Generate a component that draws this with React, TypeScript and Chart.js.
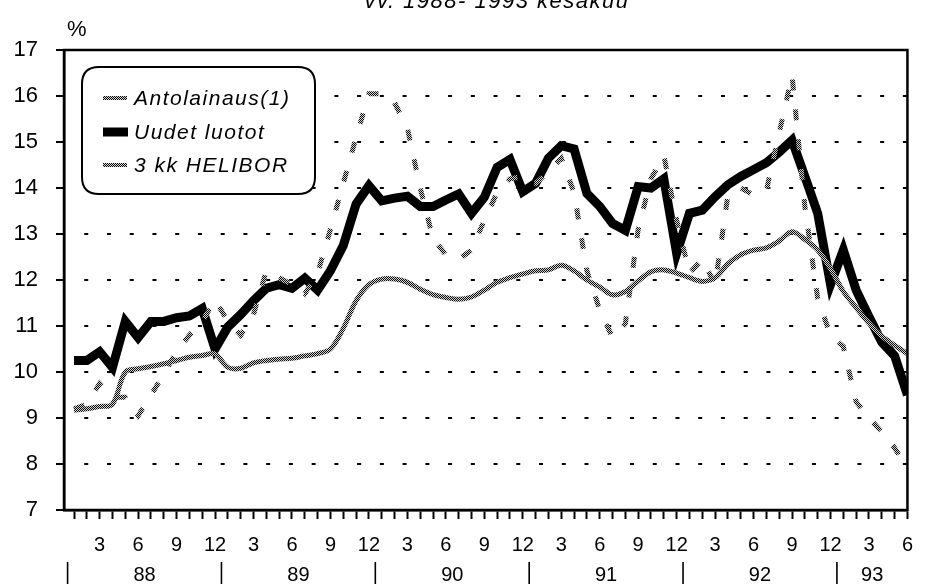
import React, { useEffect, useRef } from 'react';
import { Chart, registerables } from 'chart.js';

Chart.register(...registerables);

// ---- Data (monthly, 1988-01 .. 1993-06) ----
const startYear = 1988;
const monthCount = 66;
const yearLabels = ['88', '89', '90', '91', '92', '93'];
const yTicks = [7, 8, 9, 10, 11, 12, 13, 14, 15, 16, 17];

const antolainaus = [
  9.17, 9.2, 9.25, 9.3, 10.0, 10.07, 10.12, 10.18, 10.25, 10.32, 10.36, 10.39,
  10.1, 10.08, 10.2, 10.25, 10.28, 10.3, 10.35, 10.4, 10.5, 10.95, 11.55, 11.9,
  12.02, 12.02, 11.95, 11.8, 11.68, 11.62, 11.58, 11.63, 11.78, 11.95, 12.05, 12.13,
  12.2, 12.22, 12.32, 12.2, 12.0, 11.85, 11.68, 11.75, 11.98, 12.18, 12.22, 12.15,
  12.05, 11.97, 12.05, 12.35, 12.55, 12.65, 12.7, 12.85, 13.05, 12.88, 12.65, 12.25,
  11.75, 11.4, 11.06, 10.78, 10.58, 10.4,
];

const uudetLuotot = [
  10.25, 10.25, 10.44, 10.1, 11.1, 10.75, 11.1, 11.1, 11.18, 11.22, 11.38, 10.5,
  10.98, 11.25, 11.55, 11.82, 11.9, 11.82, 12.04, 11.78, 12.2, 12.75, 13.65, 14.05,
  13.72, 13.78, 13.82, 13.6, 13.6, 13.74, 13.87, 13.45, 13.8, 14.45, 14.62, 13.92,
  14.1, 14.65, 14.92, 14.85, 13.88, 13.6, 13.23, 13.08, 14.03, 14.0, 14.2, 12.58,
  13.45, 13.52, 13.81, 14.07, 14.25, 14.4, 14.55, 14.78, 15.04, 14.25, 13.45, 11.9,
  12.65, 11.78, 11.2, 10.65, 10.35, 9.5,
];

const helibor = [
  9.2, 9.3, 9.75, 9.45, 9.45, 9.05, 9.5, 9.95, 10.45, 10.8, 11.1, 11.57,
  11.1, 10.8, 11.25, 12.2, 12.05, 11.9, 11.7, 12.15, 13.1, 14.1, 15.1, 16.05,
  16.05, 15.85, 15.3, 14.0, 12.9, 12.55, 12.45, 12.65, 13.3, 13.9, 14.2, 14.25,
  14.1, 14.35, 14.65, 13.9, 12.2, 11.35, 10.75, 11.05, 13.1, 14.2, 14.7, 13.3,
  12.15, 12.45, 11.9, 13.85, 14.0, 13.85, 13.95, 15.2, 16.45, 13.6, 11.6, 10.8,
  10.55, 9.35, 9.0, 8.7, 8.35, 7.9,
];

const legendLabels = ['Antolainaus(1)', 'Uudet luotot', '3 kk HELIBOR'];
const titleText = 'vv. 1988- 1993 kesäkuu';
const unitText = '%';

const FONT = "'Liberation Sans', Arial, Helvetica, sans-serif";

function makeHatch(): CanvasPattern | string {
  const c = document.createElement('canvas');
  c.width = 2;
  c.height = 2;
  const g = c.getContext('2d');
  if (!g) return '#888';
  g.fillStyle = '#d2d2d2';
  g.fillRect(0, 0, 2, 2);
  g.fillStyle = '#0a0a0a';
  g.fillRect(0, 0, 1, 1);
  g.fillRect(1, 1, 1, 1);
  return g.createPattern(c, 'repeat') || '#888';
}

function toPoints(arr: number[]) {
  return arr.map((y, i) => ({ x: i, y }));
}

export default function App() {
  const ref = useRef<HTMLCanvasElement>(null);

  useEffect(() => {
    const canvas = ref.current;
    if (!canvas) return;
    Chart.defaults.font.family = FONT;
    const hatch = makeHatch();

    const decor = {
      id: 'decor',
      afterDraw(chart: any) {
        const { ctx, chartArea, scales } = chart;
        const xs = scales.x;
        ctx.save();
        ctx.setLineDash([]);
        // frame
        ctx.strokeStyle = '#000';
        ctx.lineWidth = 2.5;
        ctx.strokeRect(chartArea.left, chartArea.top, chartArea.right - chartArea.left, chartArea.bottom - chartArea.top);

        // unit
        ctx.fillStyle = '#000';
        ctx.font = `22px ${FONT}`;
        ctx.textAlign = 'left';
        ctx.textBaseline = 'alphabetic';
        ctx.fillText(unitText, 67, 36);

        // title (cut at top)
        ctx.font = `italic 22px ${FONT}`;
        ctx.textAlign = 'center';
        (ctx as any).letterSpacing = '1.5px';
        ctx.fillText(titleText, 497, 8);
        (ctx as any).letterSpacing = '0px';

        // year separators and labels
        ctx.font = `20px ${FONT}`;
        ctx.textAlign = 'center';
        ctx.textBaseline = 'middle';
        ctx.lineWidth = 1.6;
        for (let k = 0; k < yearLabels.length; k++) {
          const startIdx = k * 12 - 0.5;
          const endIdx = Math.min(k * 12 + 11.5, monthCount - 1);
          const sx = xs.getPixelForValue(startIdx);
          ctx.beginPath();
          ctx.moveTo(sx, 562);
          ctx.lineTo(sx, 585);
          ctx.stroke();
          const cx = xs.getPixelForValue((startIdx + endIdx) / 2);
          ctx.fillText(yearLabels[k], cx, 575);
        }

        // legend box
        const bx = 82, by = 67, bw = 233, bh = 127, r = 17;
        ctx.fillStyle = '#fff';
        ctx.strokeStyle = '#000';
        ctx.lineWidth = 2;
        ctx.beginPath();
        ctx.moveTo(bx + r, by);
        ctx.lineTo(bx + bw - r, by);
        ctx.quadraticCurveTo(bx + bw, by, bx + bw, by + r);
        ctx.lineTo(bx + bw, by + bh - r);
        ctx.quadraticCurveTo(bx + bw, by + bh, bx + bw - r, by + bh);
        ctx.lineTo(bx + r, by + bh);
        ctx.quadraticCurveTo(bx, by + bh, bx, by + bh - r);
        ctx.lineTo(bx, by + r);
        ctx.quadraticCurveTo(bx, by, bx + r, by);
        ctx.closePath();
        ctx.fill();
        ctx.stroke();

        const rows = [98, 132, 165];
        ctx.font = `italic 21px ${FONT}`;
        ctx.textAlign = 'left';
        ctx.textBaseline = 'middle';
        (ctx as any).letterSpacing = '1.5px';
        legendLabels.forEach((lab, i) => {
          const yy = rows[i];
          if (i === 1) {
            ctx.fillStyle = '#000';
            ctx.fillRect(103, yy - 4.5, 25, 9);
          } else {
            ctx.fillStyle = hatch as any;
            ctx.fillRect(103, yy - 2, 24, 4);
          }
          ctx.fillStyle = '#000';
          ctx.fillText(lab, 134, yy + 1);
        });
        (ctx as any).letterSpacing = '0px';
        ctx.restore();
      },
    };

    const chart = new Chart(canvas, {
      type: 'line',
      data: {
        datasets: [
          {
            label: legendLabels[0],
            data: toPoints(antolainaus),
            borderColor: hatch as any,
            borderWidth: 5,
            pointRadius: 0,
            tension: 0.35,
            order: 0,
          },
          {
            label: legendLabels[2],
            data: toPoints(helibor),
            borderColor: hatch as any,
            borderWidth: 5,
            borderDash: [11, 19],
            pointRadius: 0,
            tension: 0,
            order: 1,
          },
          {
            label: legendLabels[1],
            data: toPoints(uudetLuotot),
            borderColor: '#000',
            borderWidth: 9,
            borderJoinStyle: 'miter',
            pointRadius: 0,
            tension: 0,
            order: 2,
          },
        ],
      },
      options: {
        responsive: false,
        maintainAspectRatio: false,
        devicePixelRatio: 1,
        animation: false,
        events: [],
        layout: { padding: { left: 0, top: 50, right: 10, bottom: 0 } },
        plugins: {
          legend: { display: false },
          tooltip: { enabled: false },
          title: { display: false },
        },
        scales: {
          x: {
            type: 'linear',
            min: -0.78,
            max: monthCount - 1,
            afterFit: (s: any) => {
              s.height = 74;
            },
            border: { display: true, color: '#000', width: 2.5 },
            grid: {
              drawOnChartArea: false,
              drawTicks: true,
              tickLength: 9,
              tickWidth: 2,
              tickColor: '#000',
              tickBorderDash: [],
            } as any,
            ticks: {
              stepSize: 1,
              autoSkip: false,
              includeBounds: false,
              maxRotation: 0,
              minRotation: 0,
              padding: 14,
              color: '#000',
              font: { size: 20, family: FONT },
              callback: (v: any) => {
                const m = (Math.round(Number(v)) % 12) + 1;
                return m % 3 === 0 ? String(m) : '';
              },
            },
          },
          y: {
            type: 'linear',
            min: yTicks[0],
            max: yTicks[yTicks.length - 1],
            afterFit: (s: any) => {
              s.width = 64;
            },
            border: { display: true, color: '#000', width: 2.5, dash: [4, 18.74], dashOffset: 4 } as any,
            grid: {
              color: '#000',
              lineWidth: 2,
              drawTicks: true,
              tickLength: 8,
              tickWidth: 2,
              tickColor: '#000',
              tickBorderDash: [],
              tickBorderDashOffset: 0,
            } as any,
            ticks: {
              stepSize: 1,
              padding: 18,
              color: '#000',
              font: { size: 22, family: FONT },
            },
          },
        },
      },
      plugins: [decor],
    } as any);

    return () => chart.destroy();
  }, []);

  return (
    <div style={{ position: 'fixed', left: 0, top: 0, width: 927, height: 584, background: '#fff' }}>
      <canvas ref={ref} width={927} height={584} style={{ display: 'block', width: 927, height: 584 }} />
    </div>
  );
}
